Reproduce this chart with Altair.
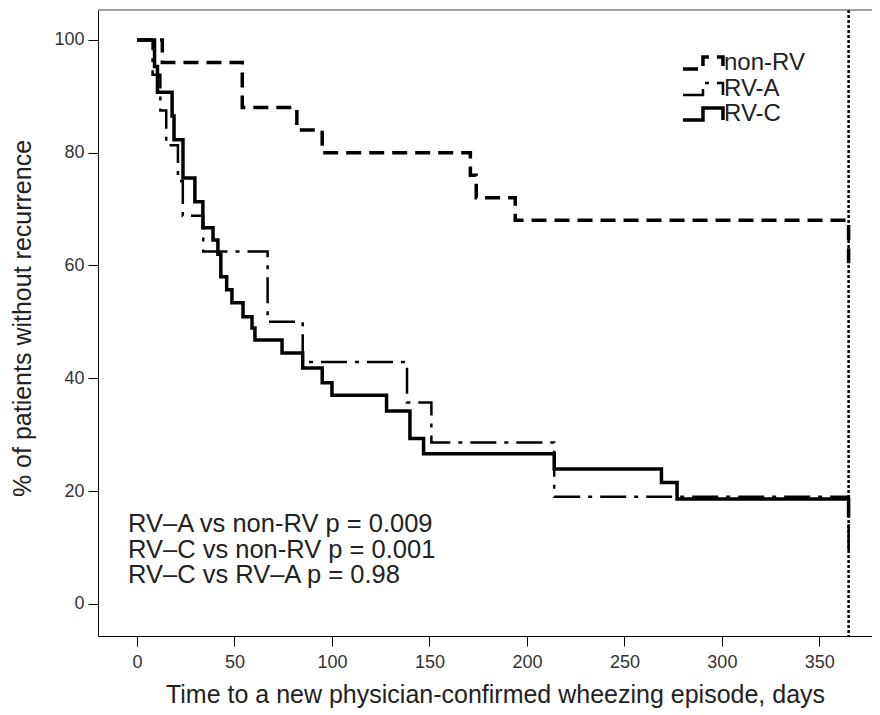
import altair as alt
import pandas as pd

# ---- data ----
series_names = ["non-RV", "RV-A", "RV-C"]

nonrv_days = [0, 13, 54, 82, 95, 171, 174, 194, 365]
nonrv_pct = [100, 96, 88, 84, 80, 76, 72, 68, 60]

rva_days = [0, 8, 12, 15, 21, 23.5, 34, 67, 85, 138.5, 151, 214, 365]
rva_pct = [100, 93.8, 87.5, 81.3, 75, 68.8, 62.5, 50, 42.9, 35.7, 28.6, 19.0, 9.5]

rvc_days = [0, 9, 10.5, 18, 19, 23.6, 29.7, 33.8, 39, 41.5, 43, 46, 48.7, 54.4,
            59, 60.5, 74.4, 85, 95, 100, 128, 140, 147, 214, 269, 277, 365]
rvc_pct = [100, 95.3, 90.7, 86.5, 82.3, 75.5, 71.3, 66.7, 64.5, 62, 58, 55.7, 53.4, 50.9,
           48.9, 46.8, 44.5, 41.8, 39.2, 37, 34.2, 29.3, 26.6, 23.9, 21.5, 18.6, 15.4]

cutoff_day = [365]

x_ticks = [0, 50, 100, 150, 200, 250, 300, 350]
y_ticks = [0, 20, 40, 60, 80, 100]

annotation_lines = [
    "RV\u2013A vs non-RV p = 0.009",
    "RV\u2013C vs non-RV p = 0.001",
    "RV\u2013C vs RV\u2013A p = 0.98",
]

rows = []
for name, ds, ps in [("non-RV", nonrv_days, nonrv_pct),
                     ("RV-A", rva_days, rva_pct),
                     ("RV-C", rvc_days, rvc_pct)]:
    for d, p in zip(ds, ps):
        rows.append({"group": name, "day": d, "pct": p})
df = pd.DataFrame(rows)

FONT = "Liberation Sans"
W, H = 774, 626

x_scale = alt.Scale(domain=[-20, 377], nice=False, zero=False)
y_scale = alt.Scale(domain=[-5.7, 105.3], nice=False, zero=False)

step_path = "M-1,0.67H1.22V-0.67H3.44V0.67"

lines = alt.Chart(df).mark_line(interpolate="step-after", color="black").encode(
    x=alt.X("day:Q", scale=x_scale,
            axis=alt.Axis(values=x_ticks, title="Time to a new physician-confirmed wheezing episode, days",
                          titleX=397, titleY=66, titleBaseline="alphabetic", titleAlign="center")),
    y=alt.Y("pct:Q", scale=y_scale,
            axis=alt.Axis(values=y_ticks, title="% of patients without recurrence",
                          titleX=-76, titleY=308, titleBaseline="middle", titleAlign="center",
                          titleAngle=-90)),
    strokeDash=alt.StrokeDash(
        "group:N",
        scale=alt.Scale(domain=series_names, range=[[15, 8], [26, 8, 4, 8], [1, 0]]),
        legend=alt.Legend(title=None, orient="none", legendX=582, legendY=41,
                          symbolType=step_path, symbolSize=324, symbolStrokeColor="black",
                          labelFont=FONT, labelFontSize=24, labelColor="#222",
                          labelOffset=20, rowPadding=-1, padding=0),
    ),
    strokeWidth=alt.StrokeWidth(
        "group:N",
        scale=alt.Scale(type="ordinal", domain=series_names, range=[3.5, 2.5, 3.5]),
        legend=None,
    ),
)

cutoff = alt.Chart(pd.DataFrame({"d": cutoff_day})).mark_rule(
    color="black", strokeDash=[3, 2], strokeWidth=2.5
).encode(x=alt.X("d:Q", scale=x_scale))

top_border = alt.Chart(pd.DataFrame({"k": [0]})).mark_rule(color="#444", strokeWidth=1).encode(
    x=alt.value(0), x2=alt.value(W), y=alt.value(0)
)

annot = alt.Chart(pd.DataFrame({"k": [0]})).mark_text(
    text=annotation_lines, align="left", baseline="top", fontSize=25.5, lineHeight=25.5,
    font=FONT, color="#222"
).encode(x=alt.value(30), y=alt.value(502))

chart = alt.layer(lines, cutoff, top_border, annot).properties(
    width=W, height=H,
    autosize=alt.AutoSizeParams(type="none"),
    padding={"left": 90, "top": 2, "right": 0, "bottom": 75},
).configure_view(stroke=None).configure_axis(
    grid=False, domainColor="black", tickColor="black", tickSize=10,
    labelFont=FONT, labelFontSize=18, labelColor="#333", labelPadding=4,
    titleFont=FONT, titleFontSize=25, titleFontWeight="normal", titleColor="#222",
    labelFlush=False,
).configure_axisX(labelPadding=7)

chart.save("out.html", embed_options={"renderer": "svg", "actions": False})
